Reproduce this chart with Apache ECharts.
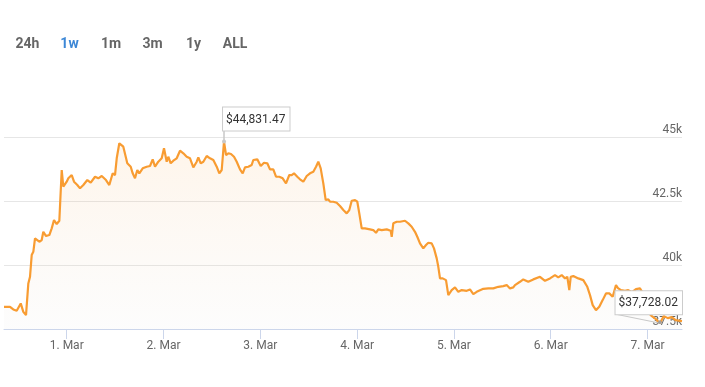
<!DOCTYPE html>
<html>
<head>
<meta charset="utf-8">
<script src="https://cdn.jsdelivr.net/npm/echarts@6/dist/echarts.min.js"></script>
<style>
html,body{margin:0;padding:0;background:#fff;}
#c{width:705px;height:387px;}
</style>
</head>
<body>
<div id="c"></div>
<script>
// ---- data ----
var rangeButtons = ['24h', '1w', '1m', '3m', '1y', 'ALL'];
var activeButton = '1w';
var dayLabels = ['1. Mar', '2. Mar', '3. Mar', '4. Mar', '5. Mar', '6. Mar', '7. Mar'];
// hours relative to 1 Mar 00:00
var hours = [-15.55,-14.06,-13.24,-12.40,-11.40,-10.76,-10.09,-9.52,-9.10,-8.68,-8.28,-7.86,-7.29,-6.79,-6.20,-5.80,-5.13,-4.31,-3.72,-3.15,-2.48,-1.83,-1.24,-0.84,
0,0.40,1.24,1.81,2.63,3.30,4.12,5.11,5.95,7.02,7.83,8.68,9.74,10.56,11.40,11.97,12.40,13.04,14.03,14.45,15.02,15.87,16.36,16.93,17.50,18.00,18.84,19.83,20.65,21.32,21.89,22.71,23.55,
24.12,24.79,25.19,25.78,26.43,27.27,28.09,28.91,29.75,30.57,31.39,32.23,32.63,33.22,33.87,34.71,35.53,36.35,37.19,37.83,38.43,39.00,39.50,40.07,40.73,41.48,42.15,42.96,43.63,44.20,45.02,45.86,46.26,47.25,
48.10,48.92,49.73,50.40,51.22,51.89,52.71,53.55,54.37,55.19,55.78,56.35,57.17,57.84,58.66,59.50,60.32,61.14,61.81,62.38,62.97,63.62,64.21,64.86,65.28,66.10,66.94,67.76,68.58,69.42,70.06,70.66,71.48,
72.05,72.54,73.14,73.96,75.20,76.01,76.68,77.25,78.10,79.34,80.33,80.58,80.97,81.82,82.63,83.87,84.69,85.53,86.35,86.92,87.59,88.41,89.08,89.65,90.49,91.06,91.73,92.13,92.55,93.22,94.04,94.61,95.45,
96.27,97.09,97.93,99.17,99.99,100.81,101.65,103.29,104.53,105.77,107.01,108.24,109.09,109.90,110.72,111.14,112.38,113.20,114.44,115.68,117.34,118.58,119.82,121.06,121.88,122.72,123.54,124.11,124.61,124.96,125.60,126.84,128.08,129.07,129.74,130.41,131.22,132.04,132.88,133.70,134.52,135.36,136.18,136.68,137.42,138.41,139.23,140.15,141.14,142.13,142.87,143.37,
144.10,145.09,146.08,147.06,148.04,149.03,150.00,150.98,152.55];
var prices = [38368,38368,38266,38211,38501,38172,38043,39284,39543,40392,40521,41046,40979,40913,40979,41304,41136,41175,41437,41762,41606,41735,43720,43066,
43262,43395,43524,43262,43133,43003,43133,43328,43223,43457,43395,43485,43328,43133,43591,43524,44178,44765,44632,44569,43982,43849,43591,43395,43720,43591,43786,43849,43876,44139,43849,44045,44178,
44569,44045,44240,43982,44084,44178,44475,44374,44240,44178,43826,44045,44217,43982,44045,44268,44178,44111,43849,43591,43720,44831.47,44307,44374,44346,44240,44045,43747,43591,43826,43849,43916,44111,44139,
43876,44006,43982,43747,43747,43457,43457,43395,43199,43524,43524,43591,43457,43356,43262,43485,43591,43653,43849,44045,43786,43199,42545,42573,42479,42479,42440,42310,42154,42025,42154,42518,42545,
42479,42025,41437,41437,41398,41371,41265,41398,41371,41398,41343,41109,41633,41696,41696,41735,41633,41500,41304,41109,40850,40654,40784,40874,40850,40654,40263,39934,39480,39480,39413,38826,39022,
39128,38955,39022,38994,39049,38865,38955,39073,39088,39088,39151,39178,39218,39088,39128,39218,39347,39441,39347,39441,39543,39386,39480,39609,39519,39609,39480,39543,39022,39543,39570,39480,39413,39151,38826,38435,38239,38368,38630,38893,38893,38760,39218,39100,39022,38990,39022,38943,39061,39088,38900,38513,
38161,38004,37886,37728.02,38004,37926,37965,37847,37808];
var yTicks = [37500, 40000, 42500, 45000, 47500];

// ---- chart ----
var chart = echarts.init(document.getElementById('c'), null, {renderer: 'canvas'});
var seriesData = hours.map(function (h, i) { return [h, prices[i]]; });
var dayValues = dayLabels.map(function (_, i) { return i * 24; });
var FONT = 'Roboto, "Noto Sans", sans-serif';

chart.setOption({
  animation: false,
  backgroundColor: '#fff',
  grid: {left: 4, right: 23, top: 73.4, bottom: 58},
  xAxis: {
    type: 'value',
    min: hours[0],
    max: hours[hours.length - 1],
    axisLine: {show: true, lineStyle: {color: '#ccd6eb', width: 1}},
    axisTick: {show: true, length: 10, lineStyle: {color: '#ccd6eb'}, customValues: dayValues},
    axisLabel: {
      color: '#666', fontSize: 12, fontFamily: FONT, margin: 11,
      customValues: dayValues,
      formatter: function (v) { return dayLabels[Math.round(v / 24)]; }
    },
    splitLine: {show: false}
  },
  yAxis: {
    type: 'value',
    position: 'right',
    min: yTicks[0],
    max: yTicks[yTicks.length - 1],
    interval: 2500,
    axisLine: {show: false},
    axisTick: {show: false},
    splitLine: {show: true, showMaxLine: false, lineStyle: {color: '#e6e6e6', width: 1}},
    axisLabel: {
      inside: true, margin: 0, color: '#666', fontSize: 12, fontFamily: FONT,
      verticalAlign: 'bottom', align: 'right', lineHeight: 14,
      showMaxLabel: false,
      formatter: function (v) { return v === yTicks[yTicks.length - 1] ? '' : (v / 1000) + 'k'; }
    }
  },
  series: [{
    type: 'line',
    data: seriesData,
    showSymbol: false,
    lineStyle: {color: '#f89c32', width: 2.2},
    areaStyle: {
      color: new echarts.graphic.LinearGradient(0, 0, 0, 1, [
        {offset: 0, color: 'rgba(248,160,60,0.15)'},
        {offset: 1, color: 'rgba(225,225,225,0.12)'}
      ])
    },
    z: 2
  }]
});

// ---- annotations (min / max flags) and range buttons ----
function fmt(v) {
  return '$' + v.toLocaleString('en-US', {minimumFractionDigits: 2, maximumFractionDigits: 2});
}
function textWidth(t, font) {
  var ctx = document.createElement('canvas').getContext('2d');
  ctx.font = font;
  return ctx.measureText(t).width;
}
var iMax = prices.indexOf(Math.max.apply(null, prices));
var iMin = prices.indexOf(Math.min.apply(null, prices));
var pMax = chart.convertToPixel({xAxisIndex: 0, yAxisIndex: 0}, [hours[iMax], prices[iMax]]);
var pMin = chart.convertToPixel({xAxisIndex: 0, yAxisIndex: 0}, [hours[iMin], prices[iMin]]);
var rightEdge = chart.convertToPixel({xAxisIndex: 0, yAxisIndex: 0}, [hours[hours.length - 1], prices[0]])[0];

var boxFont = '12px ' + FONT;
var pad = [5, 4, 4, 3];
var boxStyle = {
  fill: '#333', font: boxFont, backgroundColor: '#fff',
  borderColor: '#cccccc', borderWidth: 1, padding: pad, lineHeight: 14
};
var elements = [];
// max flag
elements.push({type: 'line', z: 10, shape: {x1: pMax[0], y1: pMax[1], x2: pMax[0], y2: pMax[1] - 11},
  style: {stroke: '#c8c8c8', lineWidth: 1.5}});
elements.push({type: 'circle', z: 11, shape: {cx: pMax[0], cy: pMax[1], r: 2}, style: {fill: '#c8c8c8'}});
elements.push({type: 'text', z: 12, x: pMax[0] - 1, y: pMax[1] - 11,
  style: Object.assign({text: fmt(prices[iMax]), align: 'left', verticalAlign: 'bottom'}, boxStyle)});
// min flag
var minText = fmt(prices[iMin]);
var minBoxBottom = pMin[1] - 9;
var minBoxLeft = rightEdge - textWidth(minText, boxFont) - pad[1] - pad[3];
elements.push({type: 'line', z: 11, shape: {x1: minBoxLeft, y1: minBoxBottom, x2: pMin[0], y2: pMin[1]},
  style: {stroke: '#c8c8c8', lineWidth: 1}});
elements.push({type: 'circle', z: 11, shape: {cx: pMin[0], cy: pMin[1] - 1, r: 1.8}, style: {fill: '#a0a0a0'}});
elements.push({type: 'text', z: 12, x: minBoxLeft, y: minBoxBottom,
  style: Object.assign({text: minText, align: 'left', verticalAlign: 'bottom'}, boxStyle)});

// range buttons
var btnCenters = [27.5, 69.5, 111, 152.5, 193.5, 235];
rangeButtons.forEach(function (b, i) {
  elements.push({type: 'text', x: btnCenters[i], y: 44.5, z: 5,
    style: {text: b, align: 'center', verticalAlign: 'middle', font: 'bold 14px ' + FONT,
      fill: b === activeButton ? '#3c87d6' : '#666666'}});
});
chart.setOption({graphic: {elements: elements}});
</script>
</body>
</html>
